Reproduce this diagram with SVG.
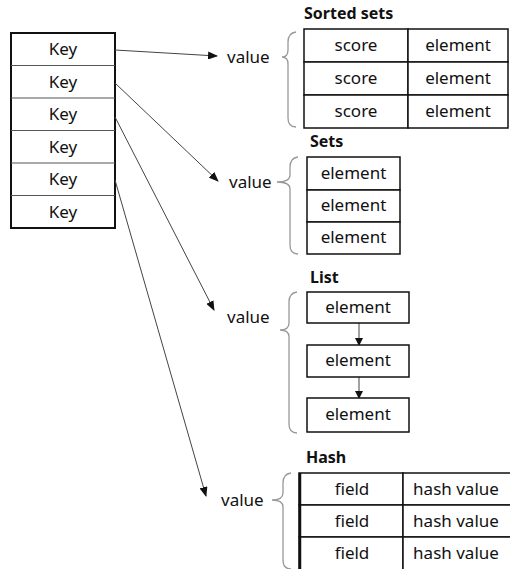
<svg xmlns="http://www.w3.org/2000/svg" width="510" height="569" viewBox="0 0 510 569">
<style>
text{font-family:"Noto Sans","Open Sans","DejaVu Sans",sans-serif;font-size:17px;fill:#111;}
.c{text-anchor:middle;}
.t{font-weight:bold;font-size:16px;}
.cell{fill:#fff;stroke:#111;stroke-width:1.5;}
.conn{stroke:#444;stroke-width:1;fill:none;}
.brace{stroke:#999;stroke-width:1.3;fill:none;}
</style>
<defs>
<marker id="ah" markerWidth="10" markerHeight="8" refX="9" refY="4" orient="auto" markerUnits="userSpaceOnUse">
<path d="M0,0 L10,4 L0,8 z" fill="#111"/>
</marker>
<marker id="ah2" markerWidth="8" markerHeight="8" refX="7" refY="4" orient="auto" markerUnits="userSpaceOnUse">
<path d="M0,0 L8,4 L0,8 z" fill="#111"/>
</marker>
</defs>

<g id="keys">
<rect x="11" y="33" width="104" height="195" fill="#fff" stroke="#111" stroke-width="2"/>
<g stroke="#555" stroke-width="1.2">
<line x1="11" y1="65.5" x2="115" y2="65.5"/>
<line x1="11" y1="98" x2="115" y2="98"/>
<line x1="11" y1="130.5" x2="115" y2="130.5"/>
<line x1="11" y1="163" x2="115" y2="163"/>
<line x1="11" y1="195.5" x2="115" y2="195.5"/>
</g>
<text class="c" x="63" y="55">Key</text>
<text class="c" x="63" y="88">Key</text>
<text class="c" x="63" y="120">Key</text>
<text class="c" x="63" y="153">Key</text>
<text class="c" x="63" y="185">Key</text>
<text class="c" x="63" y="218">Key</text>
</g>

<g id="connectors">
<line class="conn" x1="115" y1="50" x2="217" y2="56" marker-end="url(#ah)"/>
<line class="conn" x1="115" y1="83" x2="218" y2="181" marker-end="url(#ah)"/>
<line class="conn" x1="115" y1="117" x2="214" y2="310" marker-end="url(#ah)"/>
<line class="conn" x1="115" y1="180" x2="206" y2="496" marker-end="url(#ah)"/>
<line class="conn" x1="359" y1="323" x2="359" y2="345" marker-end="url(#ah2)"/>
<line class="conn" x1="359" y1="377" x2="359" y2="398" marker-end="url(#ah2)"/>
</g>

<g id="sorted-sets">
<text class="t" x="304" y="19">Sorted sets</text>
<text x="227" y="63">value</text>
<path class="brace" d="M296,32 Q288,33 288,42 L288,50 Q288,57 282,57 Q288,57 288,64 L288,118 Q288,127 296,127"/>
<rect class="cell" x="304" y="29" width="104" height="33"/>
<rect class="cell" x="408" y="29" width="100" height="33"/>
<rect class="cell" x="304" y="62" width="104" height="33"/>
<rect class="cell" x="408" y="62" width="100" height="33"/>
<rect class="cell" x="304" y="95" width="104" height="33"/>
<rect class="cell" x="408" y="95" width="100" height="33"/>
<text class="c" x="356" y="51">score</text>
<text class="c" x="458" y="51">element</text>
<text class="c" x="356" y="84">score</text>
<text class="c" x="458" y="84">element</text>
<text class="c" x="356" y="117">score</text>
<text class="c" x="458" y="117">element</text>
</g>

<g id="sets">
<text class="t" x="310" y="147">Sets</text>
<text x="229" y="188">value</text>
<path class="brace" d="M298,157 Q290,158 290,167 L290,175 Q290,182 277,182 Q290,182 290,189 L290,245 Q290,254 298,254"/>
<rect class="cell" x="307" y="157" width="93" height="33"/>
<rect class="cell" x="307" y="190" width="93" height="32"/>
<rect class="cell" x="307" y="222" width="93" height="32"/>
<text class="c" x="353.5" y="179">element</text>
<text class="c" x="353.5" y="211">element</text>
<text class="c" x="353.5" y="243">element</text>
</g>

<g id="list">
<text class="t" x="310" y="283">List</text>
<text x="227" y="323">value</text>
<path class="brace" d="M297,292 Q289,293 289,302 L289,323 Q289,330 280,330 Q289,330 289,337 L289,424 Q289,433 297,433"/>
<rect class="cell" x="307" y="292" width="102" height="31" stroke-width="2.5"/>
<rect class="cell" x="307" y="345" width="102" height="32"/>
<rect class="cell" x="307" y="398" width="102" height="34"/>
<text class="c" x="358" y="313">element</text>
<text class="c" x="358" y="366">element</text>
<text class="c" x="358" y="420">element</text>
</g>

<g id="hash">
<text class="t" x="306" y="463">Hash</text>
<text x="221" y="506">value</text>
<path class="brace" d="M291,473 Q283,474 283,483 L283,493 Q283,500 272,500 Q283,500 283,507 L283,560 Q283,569 291,569"/>
<rect class="cell" x="299" y="473" width="104" height="32"/>
<rect class="cell" x="403" y="473" width="110" height="32"/>
<rect class="cell" x="299" y="505" width="104" height="32"/>
<rect class="cell" x="403" y="505" width="110" height="32"/>
<rect class="cell" x="299" y="537" width="104" height="34"/>
<rect class="cell" x="403" y="537" width="110" height="34"/>
<line x1="300" y1="473" x2="300" y2="569" stroke="#111" stroke-width="2.5"/>
<text class="c" x="352" y="495">field</text>
<text class="c" x="456" y="495">hash value</text>
<text class="c" x="352" y="527">field</text>
<text class="c" x="456" y="527">hash value</text>
<text class="c" x="352" y="559">field</text>
<text class="c" x="456" y="559">hash value</text>
</g>
</svg>
